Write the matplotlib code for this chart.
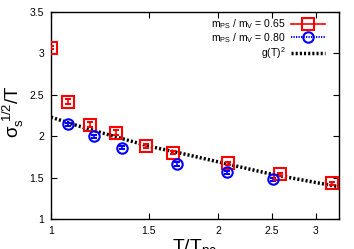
import matplotlib
matplotlib.use("Agg")
import matplotlib.pyplot as plt
from matplotlib.lines import Line2D
import numpy as np

plt.rcParams['font.family'] = ['Liberation Sans', 'DejaVu Sans']
plt.rcParams['mathtext.fontset'] = 'custom'
plt.rcParams['mathtext.rm'] = 'Liberation Sans'
plt.rcParams['mathtext.it'] = 'Liberation Sans'

# m_PS / m_V = 0.65
t_065 = [1.0, 1.072, 1.176, 1.308, 1.48, 1.661, 2.087, 2.586, 3.21]
s_065 = [3.07, 2.415, 2.14, 2.04, 1.882, 1.80, 1.673, 1.54, 1.43]
e_065 = [0.02, 0.03, 0.03, 0.03, 0.02, 0.02, 0.02, 0.02, 0.02]

# m_PS / m_V = 0.80
t_080 = [1.072, 1.197, 1.344, 1.687, 2.073, 2.505]
s_080 = [2.145, 2.0, 1.86, 1.664, 1.564, 1.48]
e_080 = [0.02, 0.02, 0.02, 0.02, 0.02, 0.02]

# g(T)^2 curve
t_g = [1.0, 1.1, 1.25, 1.5, 1.75, 2.0, 2.5, 3.0, 3.3]
g2 = [2.23, 2.14, 2.03, 1.88, 1.78, 1.69, 1.54, 1.44, 1.39]

fig = plt.figure(figsize=(3.54, 2.49), dpi=100)
ax = fig.add_axes([51/354, 30/249, 288/354, 207/249])

dots = (0, (0.6, 0.6))
ax.plot(t_g, g2, color='black', ls=dots, lw=2.5, zorder=2)
ax.errorbar(t_065, s_065, yerr=e_065, fmt='s', ms=8, mfc='none', mec='red', mew=1.5,
            ecolor='red', elinewidth=1.2, capsize=2, zorder=3)
ax.errorbar(t_080, s_080, yerr=e_080, fmt='o', ms=7.5, mfc='none', mec='blue', mew=1.5,
            ecolor='blue', elinewidth=1.2, capsize=2, zorder=3)

ax.set_xscale('log')
ax.set_xlim(1, 3.3)
ax.set_ylim(1, 3.5)
ax.set_xticks([1, 1.5, 2, 2.5, 3])
ax.set_xticklabels(['1', '1.5', '2', '2.5', '3'])
ax.xaxis.set_minor_locator(matplotlib.ticker.NullLocator())
ax.set_yticks([1, 1.5, 2, 2.5, 3, 3.5])
ax.set_yticklabels(['1', '1.5', '2', '2.5', '3', '3.5'])
ax.tick_params(direction='in', top=True, right=True, length=4, labelsize=7.5, pad=5)
for s in ax.spines.values():
    s.set_linewidth(1.0)

ax.set_xlabel(r'$T/T_{pc}$', fontsize=14, labelpad=1)
ax.set_ylabel(r'$\sigma_s^{\ 1/2}/T$', fontsize=13.5)
ax.yaxis.set_label_coords(-0.088, 0.52)

# legend handles drawn like the gnuplot keys
h1 = Line2D([], [], color='red', ls='-', lw=1.2, marker='s', ms=8, mfc='none', mew=1.5)
h2 = Line2D([], [], color='blue', ls=dots, lw=1.5, marker='o', ms=7.5, mfc='none', mew=1.5)
h3 = Line2D([], [], color='black', ls=dots, lw=2.5)
ax.legend([h1, h2, h3],
          [r'$m_{PS}\ /\ m_V$ = 0.65', r'$m_{PS}\ /\ m_V$ = 0.80', r'$g(T)^2$'],
          loc='upper right', frameon=False, markerfirst=False, fontsize=7.5,
          handlelength=3.3, handletextpad=0.5, labelspacing=0.0,
          borderaxespad=0.3, borderpad=0.2, bbox_to_anchor=(0.97, 1.0))

fig.savefig('out.png', dpi=100)
